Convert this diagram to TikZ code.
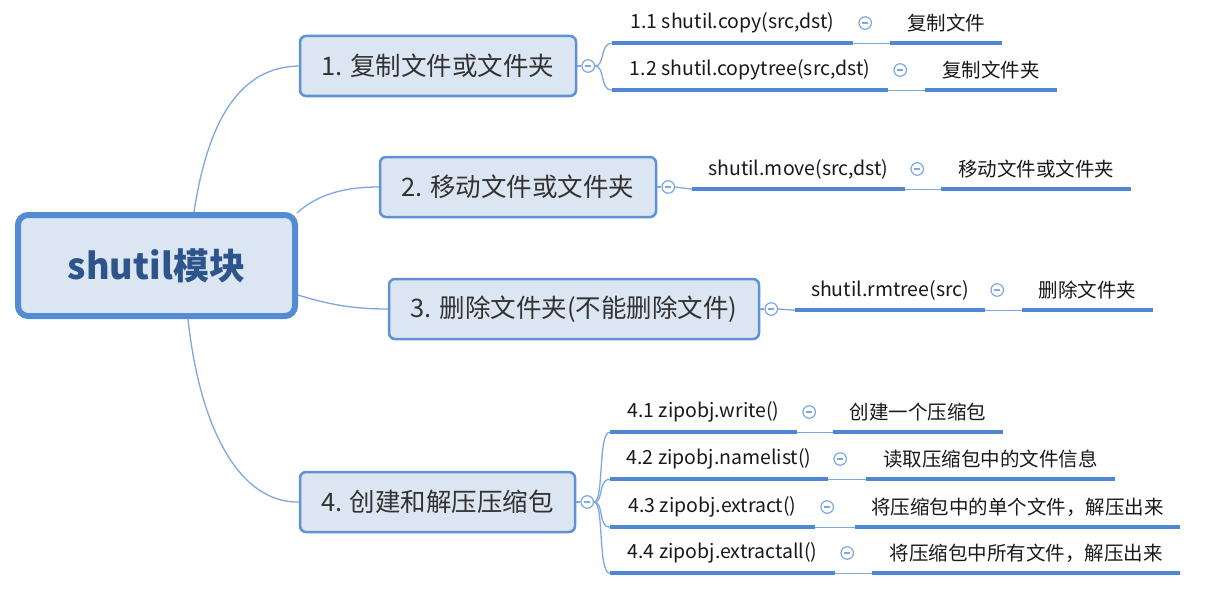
\documentclass[tikz,border=0pt]{standalone}
\usepackage{fontspec}
\setmainfont{Noto Sans CJK SC}
\usetikzlibrary{calc}
\definecolor{rootblue}{RGB}{84,140,212}
\definecolor{fillblue}{RGB}{220,230,242}
\definecolor{roottext}{RGB}{46,84,140}
\definecolor{boxblue}{RGB}{95,145,214}
\definecolor{ulineblue}{RGB}{80,135,210}
\definecolor{linkblue}{RGB}{125,168,226}
\definecolor{btext}{RGB}{50,50,50}
\definecolor{ltext}{RGB}{25,25,25}
\begin{document}
\begin{tikzpicture}[x=1pt,y=-1pt,
 rootbox/.style={draw=rootblue, line width=6pt, fill=fillblue, rounded corners=10pt, minimum width=277pt, minimum height=101pt, inner sep=0pt, font=\fontsize{36}{40}\selectfont\bfseries, text=roottext},
 branch/.style={draw=boxblue, line width=2.5pt, fill=fillblue, rounded corners=6pt, minimum height=60pt, inner sep=0pt, font=\fontsize{25.5}{28}\selectfont, text=btext},
 leaf/.style={inner sep=0pt, minimum height=40pt, font=\fontsize{19.5}{22}\selectfont, text=ltext},
 toggle/.style={circle, draw=linkblue, line width=1.2pt, fill=white, minimum size=12.5pt, inner sep=0pt, path picture={\draw[draw=linkblue, line width=1.3pt] ([xshift=-3.2pt]path picture bounding box.center) -- ([xshift=3.2pt]path picture bounding box.center);}},
 link/.style={draw=linkblue, line width=1.3pt},
 ulinestyle/.style={draw=ulineblue, line width=3.5pt},
]
\fill[white] (0,0) rectangle (1216,602);
\useasboundingbox (0,0) rectangle (1216,602);

% root and branches
\node[rootbox] (root) at (156.5,265.5) {shutil模块};
\node[branch, minimum width=276pt] (b1) at (438,66) {1. 复制文件或文件夹};
\node[branch, minimum width=276pt] (b2) at (518,187) {2. 移动文件或文件夹};
\node[branch, minimum width=370pt] (b3) at (574,309) {3. 删除文件夹(不能删除文件)};
\node[branch, minimum width=275pt] (b4) at (437.5,502) {4. 创建和解压压缩包};

% root links
\coordinate (r1) at ($(root.north)+(37.5,0)$);
\coordinate (r2) at ($(root.north east)+(-1,1)$);
\coordinate (r3) at ($(root.east)+(0,29.5)$);
\coordinate (r4) at ($(root.south)+(31.5,0)$);
\draw[link] (r1) .. controls (208,120) and (240,67) .. (b1.west);
\draw[link] (r2) .. controls (320,192) and (350,187) .. (b2.west);
\draw[link] (r3) .. controls (330,305) and (355,309) .. (b3.west);
\draw[link] (r4) .. controls (200,430) and (240,503) .. (b4.west);

% branch toggles
\node[toggle] (t1) at ($(b1.east)+(11,0)$) {};
\node[toggle] (t2) at ($(b2.east)+(11,0)$) {};
\node[toggle] (t3) at ($(b3.east)+(11,0)$) {};
\node[toggle] (t4) at ($(b4.east)+(11,0)$) {};
\draw[link] (b1.east) -- (t1.west);
\draw[link] (b2.east) -- (t2.west);
\draw[link] (b3.east) -- (t3.west);
\draw[link] (b4.east) -- (t4.west);

% leaves: code nodes
\node[leaf, minimum width=241pt] (c11) at (732.5,23) {1.1 shutil.copy(src,dst)};
\node[leaf, minimum width=276pt] (c12) at (750,70) {1.2 shutil.copytree(src,dst)};
\node[leaf, minimum width=213pt] (c2) at (798.5,169) {shutil.move(src,dst)};
\node[leaf, minimum width=190pt] (c3) at (890,290) {shutil.rmtree(src)};
\node[leaf, minimum width=187pt] (c41) at (703.5,412) {4.1 zipobj.write()};
\node[leaf, minimum width=218pt] (c42) at (719,459) {4.2 zipobj.namelist()};
\node[leaf, minimum width=205pt] (c43) at (712.5,507) {4.3 zipobj.extract()};
\node[leaf, minimum width=225pt] (c44) at (722.5,553) {4.4 zipobj.extractall()};

% leaves: description nodes
\node[leaf, minimum width=112pt] (d11) at (946,23) {复制文件};
\node[leaf, minimum width=132pt] (d12) at (991,70) {复制文件夹};
\node[leaf, minimum width=190pt] (d2) at (1036,169) {移动文件或文件夹};
\node[leaf, minimum width=131pt] (d3) at (1087.5,290) {删除文件夹};
\node[leaf, minimum width=170pt] (d41) at (918,412) {创建一个压缩包};
\node[leaf, minimum width=249pt] (d42) at (990.5,459) {读取压缩包中的文件信息};
\node[leaf, minimum width=325pt] (d43) at (1017.5,507) {将压缩包中的单个文件，解压出来};
\node[leaf, minimum width=308pt] (d44) at (1026,553) {将压缩包中所有文件，解压出来};

% branch to leaf links
\draw[link] (t1.east) .. controls +(10,0) and +(-12,0) .. (c11.south west);
\draw[link] (t1.east) .. controls +(10,0) and +(-12,0) .. (c12.south west);
\draw[link] (t2.east) -- (c2.south west);
\draw[link] (t3.east) -- (c3.south west);
\draw[link] (t4.east) .. controls +(10,0) and +(-12,0) .. (c41.south west);
\draw[link] (t4.east) .. controls +(10,0) and +(-12,0) .. (c42.south west);
\draw[link] (t4.east) .. controls +(10,0) and +(-12,0) .. (c43.south west);
\draw[link] (t4.east) .. controls +(10,0) and +(-12,0) .. (c44.south west);

% underlines, connectors and toggles of leaves
\foreach \c/\d in {c11/d11,c12/d12,c2/d2,c3/d3,c41/d41,c42/d42,c43/d43,c44/d44}{
  \draw[link] (\c.south east) -- (\d.south west);
  \draw[ulinestyle] (\c.south west) -- (\c.south east);
  \draw[ulinestyle] (\d.south west) -- (\d.south east);
  \node[toggle] (tg\c) at ($(\c.east)+(12,0)$) {};
}
\end{tikzpicture}
\end{document}
